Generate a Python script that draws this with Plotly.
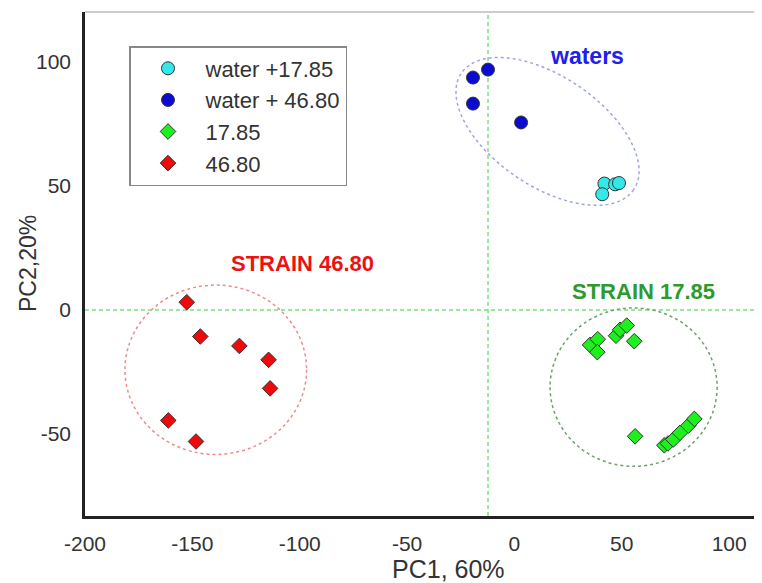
import numpy as np
import plotly.graph_objects as go

# ---- data ----
water1785_x = [41.9, 46.9, 48.7, 40.9]
water1785_y = [50.9, 50.6, 51.1, 46.6]

water4680_x = [-19.3, -12.3, -19.3, 3.1]
water4680_y = [93.6, 96.8, 83.1, 75.5]

s1785_x = [35.2, 38.8, 38.6, 47.3, 49.2, 52.3, 55.8, 56.2, 69.8, 71.5, 74.0, 77.1, 81.0, 83.8]
s1785_y = [-14.1, -11.8, -17.0, -10.4, -8.0, -6.3, -12.6, -50.9, -54.5, -53.8, -52.2, -49.5, -46.6, -43.9]

s4680_x = [-152.6, -146.3, -128.1, -114.5, -113.8, -161.2, -148.3]
s4680_y = [3.1, -10.7, -14.5, -20.1, -31.6, -44.5, -53.0]

series_names = ["water +17.85", "water + 46.80", "17.85", "46.80"]
x_ticks = [-200, -150, -100, -50, 0, 50, 100]
y_ticks = [-50, 0, 50, 100]

X_RANGE = [-200, 115.3]
Y_RANGE = [-83, 120]

# page body has an 8px margin, so the figure is 8px smaller than the window
W, H = 754, 575
ML, MT, MB, MR = 77, 4, 67, 0
pw = W - ML - MR
ph = H - MT - MB
sx = pw / (X_RANGE[1] - X_RANGE[0])
sy = ph / (Y_RANGE[1] - Y_RANGE[0])

FONT = "Liberation Sans, Arial, sans-serif"

fig = go.Figure()

mk_line = dict(color="#333333", width=1)
fig.add_trace(go.Scatter(x=water1785_x, y=water1785_y, mode="markers", name=series_names[0],
                         marker=dict(symbol="circle", size=13, color="#33e8e8", line=mk_line)))
fig.add_trace(go.Scatter(x=water4680_x, y=water4680_y, mode="markers", name=series_names[1],
                         marker=dict(symbol="circle", size=13, color="#0a0ad0", line=mk_line)))
fig.add_trace(go.Scatter(x=s1785_x, y=s1785_y, mode="markers", name=series_names[2],
                         marker=dict(symbol="diamond", size=12, color="#1ef01e", line=mk_line)))
fig.add_trace(go.Scatter(x=s4680_x, y=s4680_y, mode="markers", name=series_names[3],
                         marker=dict(symbol="diamond", size=12, color="#ee0a0a", line=mk_line)))

# rotated ellipse around the waters (defined in pixel units, converted to data)
t = np.linspace(0, 2 * np.pi, 200)
a_px, b_px, th = 104, 55, np.deg2rad(34)
cx, cy = 15.4, 71.9
dxp = a_px * np.cos(t) * np.cos(th) - b_px * np.sin(t) * np.sin(th)
dyp = a_px * np.cos(t) * np.sin(th) + b_px * np.sin(t) * np.cos(th)
ex = cx + dxp / sx
ey = cy - dyp / sy
path = "M " + " L ".join(f"{x:.3f},{y:.3f}" for x, y in zip(ex, ey)) + " Z"

shapes = [
    dict(type="line", xref="x", yref="paper", x0=-12.3, x1=-12.3, y0=0, y1=1,
         line=dict(color="#7ee07e", width=1.5, dash="4px,3px"), layer="below"),
    dict(type="line", xref="paper", yref="y", x0=0, x1=1, y0=0, y1=0,
         line=dict(color="#7ee07e", width=1.5, dash="4px,3px"), layer="below"),
    dict(type="path", xref="x", yref="y", path=path,
         line=dict(color="#a0a4e4", width=1.5, dash="dot"), layer="below"),
    dict(type="circle", xref="x", yref="y", x0=55.5 - 38.9, x1=55.5 + 38.9, y0=-31.1 - 31.9, y1=-31.1 + 31.9,
         line=dict(color="#6f9f6f", width=1.5, dash="dot"), layer="below"),
    dict(type="circle", xref="x", yref="y", x0=-139.1 - 42.3, x1=-139.1 + 42.3, y0=-24.1 - 34.1, y1=-24.1 + 34.1,
         line=dict(color="#ec8c8c", width=1.5, dash="dot"), layer="below"),
    dict(type="line", xref="paper", yref="paper", x0=0, x1=1, y0=1, y1=1,
         line=dict(color="#cccccc", width=2)),
]

annotations = [
    dict(x=33.8, y=102.4, xref="x", yref="y", text="<b>waters</b>", showarrow=False,
         font=dict(size=23, color="#2020ee", family=FONT)),
    dict(x=-98.5, y=18.9, xref="x", yref="y", text="<b>STRAIN 46.80</b>", showarrow=False,
         font=dict(size=22, color="#ee1111", family=FONT)),
    dict(x=59.9, y=7.6, xref="x", yref="y", text="<b>STRAIN 17.85</b>", showarrow=False,
         font=dict(size=22, color="#2e9a2e", family=FONT)),
    dict(x=-30.5, y=0, xref="x", yref="paper", yshift=-53, yanchor="middle", xanchor="center",
         text="PC1, 60%", showarrow=False,
         font=dict(size=25, color="#333333", family=FONT)),
    dict(x=-57 / pw, y=0.5, xref="paper", yref="paper", xanchor="center", yanchor="middle",
         text="PC2,20%", textangle=-90, showarrow=False,
         font=dict(size=23, color="#333333", family=FONT)),
]

fig.update_layout(
    width=W, height=H,
    margin=dict(l=ML, r=MR, t=MT, b=MB, autoexpand=False),
    paper_bgcolor="white", plot_bgcolor="white",
    font=dict(family=FONT, color="#333333"),
    shapes=shapes, annotations=annotations,
    legend=dict(x=(121 - ML) / pw, y=(H - MB - 38) / ph, xanchor="left", yanchor="top",
                bordercolor="#888888", borderwidth=1.5, bgcolor="white",
                font=dict(size=22, color="#333333", family=FONT), itemwidth=65, tracegroupgap=0),
    xaxis=dict(range=X_RANGE, tickvals=x_ticks, ticktext=[str(v) for v in x_ticks],
               showgrid=False, zeroline=False, showline=True, linecolor="#222222", linewidth=2.5,
               ticks="", ticklabelstandoff=7, automargin=False,
               tickfont=dict(size=21, color="#333333")),
    yaxis=dict(range=Y_RANGE, tickvals=y_ticks, ticktext=[str(v) for v in y_ticks],
               showgrid=False, zeroline=False, showline=True, linecolor="#222222", linewidth=2.5,
               ticks="", ticklabelstandoff=7, automargin=False,
               tickfont=dict(size=21, color="#333333")),
)

fig.write_html("out.html")
